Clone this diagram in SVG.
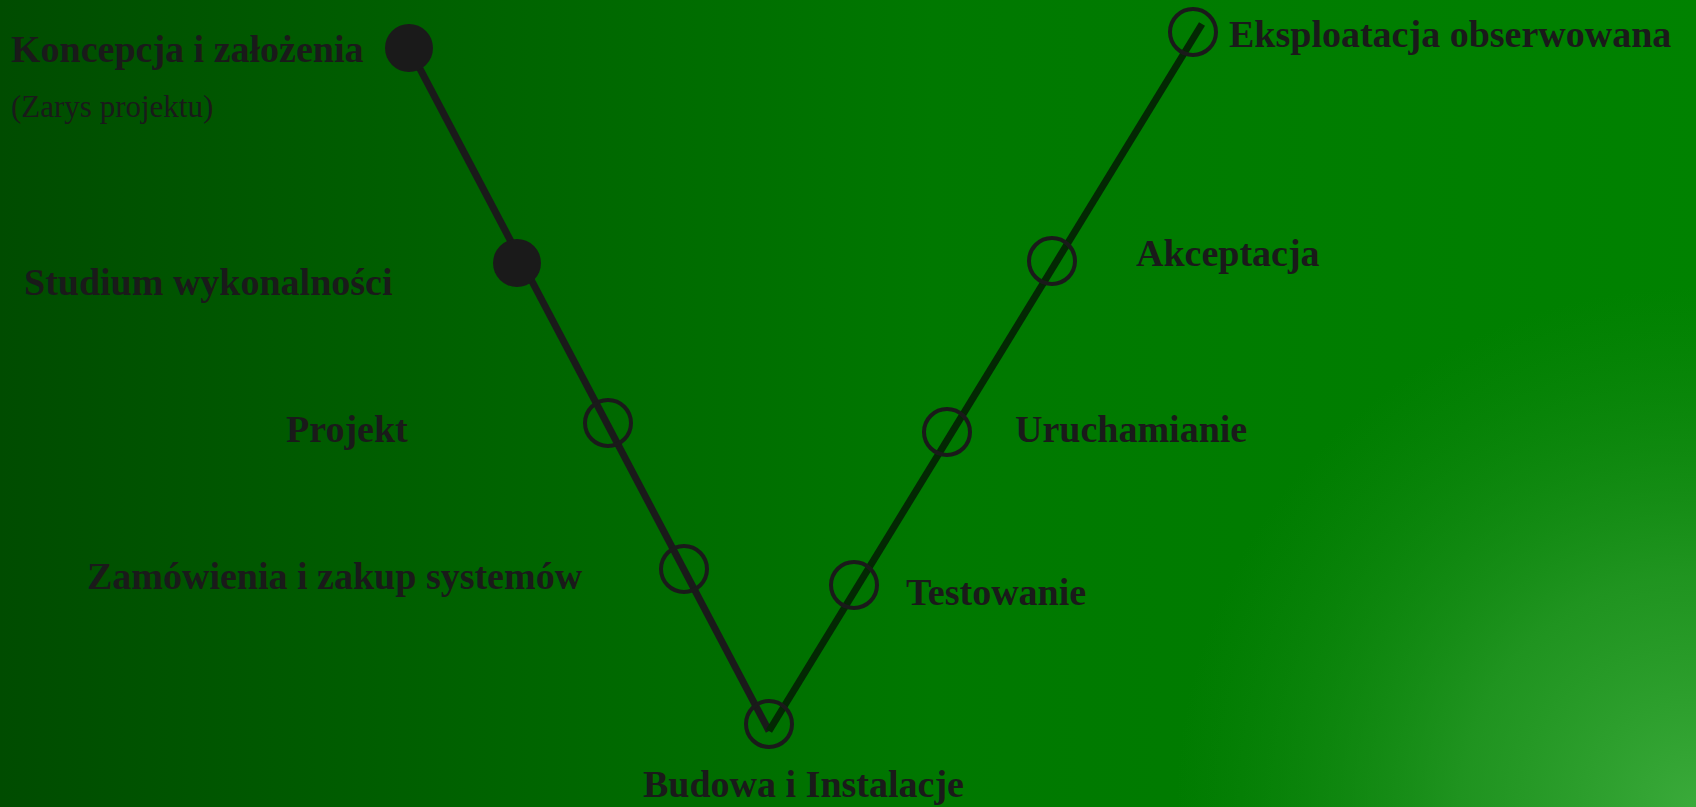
<svg xmlns="http://www.w3.org/2000/svg" width="1696" height="807" viewBox="0 0 1696 807">
<defs>
<linearGradient id="bg" x1="0" y1="0" x2="1" y2="0">
<stop offset="0" stop-color="#004c00"/>
<stop offset="0.55" stop-color="#007800"/>
<stop offset="1" stop-color="#008200"/>
</linearGradient>
<radialGradient id="hl" cx="1696" cy="807" r="520" gradientUnits="userSpaceOnUse">
<stop offset="0" stop-color="#3aaa3a" stop-opacity="1"/>
<stop offset="0.45" stop-color="#2a9a2a" stop-opacity="0.75"/>
<stop offset="1" stop-color="#1a8a1a" stop-opacity="0"/>
</radialGradient>
<style>
.lbl{font-family:"Liberation Serif","Times New Roman",serif;font-weight:bold;font-size:38px;fill:#1a1a1a}
.sub{font-family:"Liberation Serif","Times New Roman",serif;font-size:31px;fill:#1a1a1a}
.open{fill:none;stroke:#1a1a1a;stroke-width:4}
.full{fill:#1a1a1a}
</style>
</defs>
<rect width="1696" height="807" fill="url(#bg)"/>
<rect width="1696" height="807" fill="url(#hl)"/>
<g id="connectors">
<line x1="409" y1="48" x2="769" y2="731" stroke="#1a1a1a" stroke-width="7"/>
<line x1="769" y1="731" x2="1202" y2="24" stroke="#032803" stroke-width="7"/>
</g>
<g id="koncepcja">
<circle class="full" cx="409" cy="48" r="24"/>
<text class="lbl" x="11" y="62">Koncepcja i założenia</text>
<text class="sub" x="11" y="117">(Zarys projektu)</text>
</g>
<g id="studium">
<circle class="full" cx="517" cy="263" r="24"/>
<text class="lbl" x="24" y="295">Studium wykonalności</text>
</g>
<g id="projekt">
<circle class="open" cx="608" cy="423" r="23"/>
<text class="lbl" x="286" y="442">Projekt</text>
</g>
<g id="zamowienia">
<circle class="open" cx="684" cy="569" r="23"/>
<text class="lbl" x="87" y="589">Zamówienia i zakup systemów</text>
</g>
<g id="budowa">
<circle class="open" cx="769" cy="724" r="23"/>
<text class="lbl" x="643" y="797">Budowa i Instalacje</text>
</g>
<g id="testowanie">
<circle class="open" cx="854" cy="585" r="23"/>
<text class="lbl" x="906" y="605">Testowanie</text>
</g>
<g id="uruchamianie">
<circle class="open" cx="947" cy="432" r="23"/>
<text class="lbl" x="1015" y="442">Uruchamianie</text>
</g>
<g id="akceptacja">
<circle class="open" cx="1052" cy="261" r="23"/>
<text class="lbl" x="1136" y="266">Akceptacja</text>
</g>
<g id="eksploatacja">
<circle class="open" cx="1193" cy="32" r="23"/>
<text class="lbl" x="1229" y="47">Eksploatacja obserwowana</text>
</g>
</svg>
